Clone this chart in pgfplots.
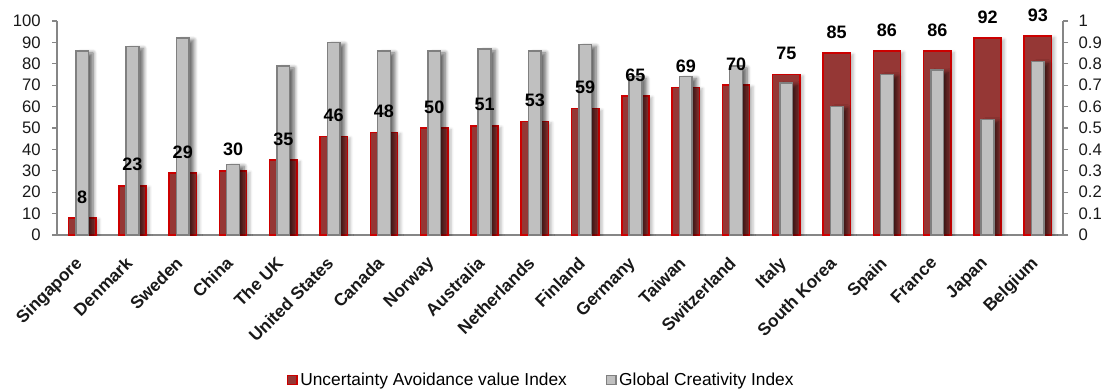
\documentclass[border=0pt]{standalone}
\usepackage{pgfplots}
\pgfplotsset{compat=1.18}
\usepackage{pgfplotstable}
\usepackage{fontspec}
\setmainfont{Liberation Sans}
\usetikzlibrary{shadows.blur}

\definecolor{uaifill}{HTML}{953735}
\definecolor{uaiedge}{HTML}{CC0000}
\definecolor{gcifill}{HTML}{C0C0C0}
\definecolor{gciedge}{HTML}{808080}
\definecolor{axisgray}{HTML}{868686}

% x: category position, uai: Uncertainty Avoidance value Index, gci: Global Creativity Index
\pgfplotstableread{
x uai gci
0 8 0.86
1 23 0.88
2 29 0.92
3 30 0.33
4 35 0.79
5 46 0.90
6 48 0.86
7 50 0.86
8 51 0.87
9 53 0.86
10 59 0.89
11 65 0.74
12 69 0.74
13 70 0.79
14 75 0.71
15 85 0.60
16 86 0.75
17 86 0.77
18 92 0.54
19 93 0.81
}\datatable

\pgfplotsset{
  common/.style={
    scale only axis,
    width=754.5pt, height=160.5pt,
    at={(42.75pt,-176.25pt)}, anchor=south west,
    xmin=-0.5, xmax=19.5,
    axis line style={axisgray, line width=0.9pt},
    tick style={axisgray, line width=0.9pt},
    major tick length=3.75pt,
    tick align=outside,
    /pgf/number format/assume math mode=true,
    ticklabel style={font=\fontsize{12.5}{14}\selectfont, text=black!90},
  },
}

\begin{document}
\begin{tikzpicture}
\path[use as bounding box] (0,0) rectangle (828.75pt,-292.5pt);

% Left scale: Uncertainty Avoidance bars
\begin{axis}[
  common,
  ymin=0, ymax=100,
  ytick={0,10,...,100},
  axis x line*=bottom,
  axis y line*=left,
  xtick={0,...,19},
  xticklabels={Singapore,Denmark,Sweden,China,The UK,United States,Canada,Norway,Australia,Netherlands,Finland,Germany,Taiwan,Switzerland,Italy,South Korea,Spain,France,Japan,Belgium},
  x tick style={draw=none},
  xticklabel style={xshift=-6pt, yshift=-11.5pt, rotate=45, anchor=north east, inner sep=0pt,
    font=\bfseries\fontsize{13}{15}\selectfont},
  extra x ticks={-0.5,0.5,...,19.5},
  extra x tick labels={},
  extra x tick style={tick style={axisgray, line width=0.9pt}, major tick length=3.75pt},
  yticklabel style={xshift=-5pt},
]
\addplot[ybar, bar width=20.5pt, bar shift=0pt, fill=uaifill, draw=uaiedge, line width=1.1pt,
  blur shadow={shadow xshift=2.5pt, shadow yshift=-1pt, shadow opacity=25, shadow blur steps=5, shadow blur radius=2pt}]
  table[x=x, y=uai] {\datatable};
\end{axis}

% Right scale: Global Creativity bars and the value labels on top
\begin{axis}[
  common,
  ymin=0, ymax=1,
  ytick={0,0.1,...,1},
  axis x line=none,
  axis y line*=right,
  yticklabel style={xshift=4.5pt},
  legend style={draw=none, fill=none, at={(0.4816,-0.6776)}, anchor=center,
    font=\fontsize{13}{15}\selectfont, legend columns=2,
    /tikz/every even column/.append style={column sep=27pt},
    legend cell align=left},
  legend image code/.code={\draw[#1] (0pt,-3.6pt) rectangle (7.2pt,3.6pt);},
]
\addlegendimage{fill=uaifill, draw=uaiedge, line width=1pt}
\addlegendentry{Uncertainty Avoidance value Index}
\addlegendimage{fill=gcifill, draw=gciedge, line width=1pt}
\addlegendentry{Global Creativity Index}

\addplot[ybar, bar width=9.5pt, bar shift=0pt, fill=gcifill, draw=gciedge, line width=1.1pt,
  blur shadow={shadow xshift=3.5pt, shadow yshift=-1.5pt, shadow opacity=60, shadow blur steps=7, shadow blur radius=3pt},
  forget plot]
  table[x=x, y=gci] {\datatable};

\addplot[draw=none, mark=none, forget plot,
  point meta=explicit,
  nodes near coords={\pgfmathprintnumber{\pgfplotspointmeta}},
  every node near coord/.append style={anchor=south, yshift=7.5pt, text=black,
    font=\bfseries\fontsize{13.5}{15}\selectfont}]
  table[x=x, y expr=\thisrow{uai}/100, meta=uai] {\datatable};
\end{axis}
\end{tikzpicture}
\end{document}
